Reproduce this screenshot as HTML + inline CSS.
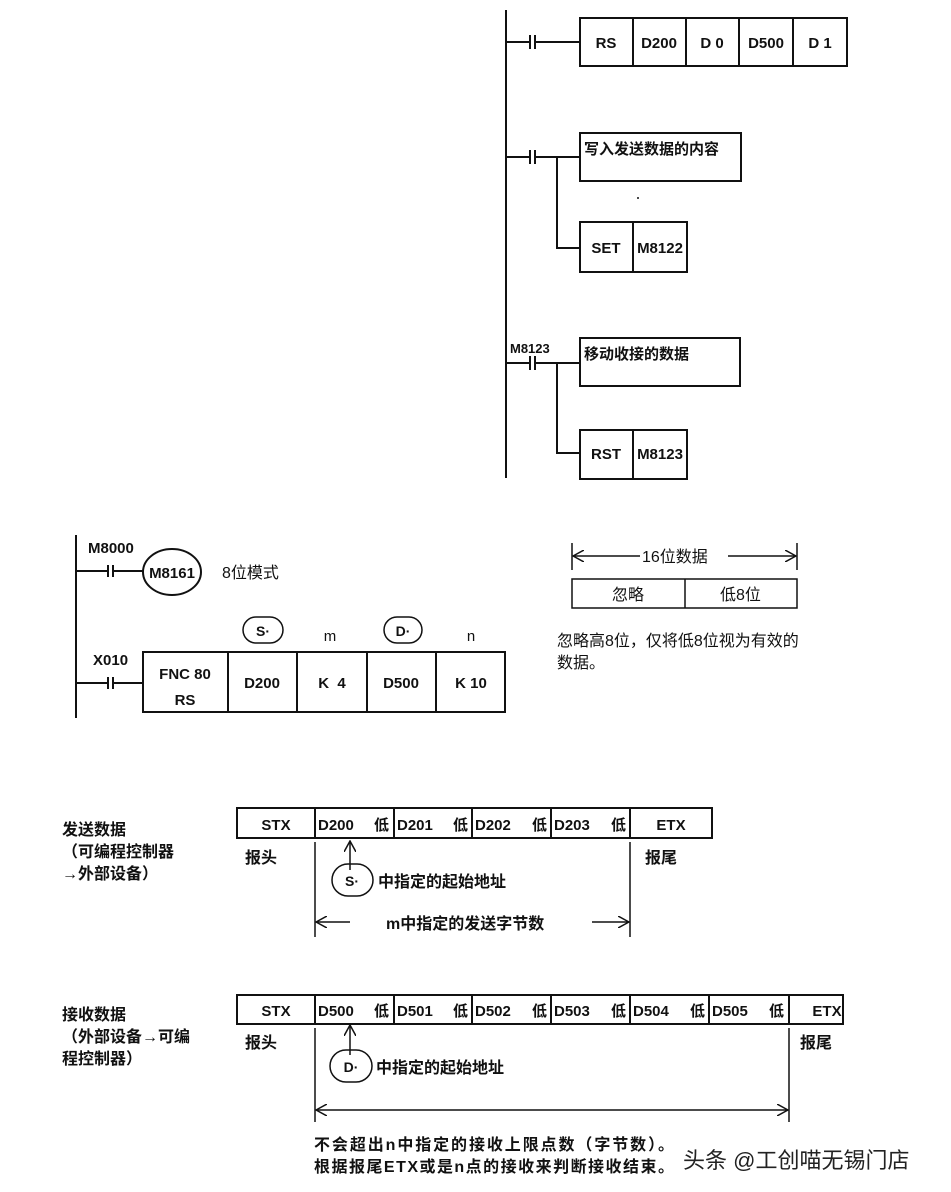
<!DOCTYPE html>
<html><head><meta charset="utf-8"><style>
html,body{margin:0;padding:0;background:#fff;width:951px;height:1192px;overflow:hidden}
svg text{font-family:"Liberation Sans","Noto Sans CJK SC",sans-serif;font-weight:bold;fill:#111}
svg text.n{font-weight:normal}
</style></head><body>
<svg width="951" height="1192" viewBox="0 0 951 1192" xmlns="http://www.w3.org/2000/svg">
<defs>
<marker id="ah" markerWidth="12" markerHeight="12" refX="11" refY="6" orient="auto" markerUnits="userSpaceOnUse"><path d="M0,0 L11,6 L0,12" fill="none" stroke="#111" stroke-width="1.5"/></marker>
</defs>
<g stroke="#111" stroke-width="2" fill="none">
<line x1="506" y1="10" x2="506" y2="478"/>
<line x1="506" y1="42" x2="529" y2="42"/><line x1="530" y1="35" x2="530" y2="49"/><line x1="535" y1="35" x2="535" y2="49"/><line x1="535" y1="42" x2="580" y2="42"/>
<rect x="580" y="18" width="267" height="48"/>
<line x1="633" y1="18" x2="633" y2="66"/><line x1="686" y1="18" x2="686" y2="66"/><line x1="739" y1="18" x2="739" y2="66"/><line x1="793" y1="18" x2="793" y2="66"/>
<line x1="506" y1="157" x2="529" y2="157"/><line x1="530" y1="150" x2="530" y2="164"/><line x1="535" y1="150" x2="535" y2="164"/><line x1="535" y1="157" x2="580" y2="157"/>
<rect x="580" y="133" width="161" height="48"/>
<polyline points="557,157 557,248 580,248"/>
<rect x="580" y="222" width="107" height="50"/><line x1="633" y1="222" x2="633" y2="272"/>
<line x1="506" y1="363" x2="529" y2="363"/><line x1="530" y1="356" x2="530" y2="370"/><line x1="535" y1="356" x2="535" y2="370"/><line x1="535" y1="363" x2="580" y2="363"/>
<rect x="580" y="338" width="160" height="48"/>
<polyline points="557,363 557,453 580,453"/>
<rect x="580" y="430" width="107" height="49"/><line x1="633" y1="430" x2="633" y2="479"/>
<line x1="76" y1="535" x2="76" y2="718"/>
<line x1="76" y1="571" x2="107" y2="571"/><line x1="108" y1="565" x2="108" y2="577"/><line x1="113" y1="565" x2="113" y2="577"/><line x1="113" y1="571" x2="143" y2="571"/>
<ellipse cx="172" cy="572" rx="29" ry="23"/>
<line x1="76" y1="683" x2="107" y2="683"/><line x1="108" y1="677" x2="108" y2="689"/><line x1="113" y1="677" x2="113" y2="689"/><line x1="113" y1="683" x2="143" y2="683"/>
<rect x="143" y="652" width="362" height="60"/>
<line x1="228" y1="652" x2="228" y2="712"/><line x1="297" y1="652" x2="297" y2="712"/><line x1="367" y1="652" x2="367" y2="712"/><line x1="436" y1="652" x2="436" y2="712"/>
<rect x="243" y="617" width="40" height="26" rx="13" stroke-width="1.5"/>
<rect x="384" y="617" width="38" height="26" rx="13" stroke-width="1.5"/>
<line x1="572" y1="543" x2="572" y2="570" stroke-width="1.5"/><line x1="797" y1="543" x2="797" y2="570" stroke-width="1.5"/>
<line x1="640" y1="556" x2="573" y2="556" stroke-width="1.5" marker-end="url(#ah)"/>
<line x1="728" y1="556" x2="796" y2="556" stroke-width="1.5" marker-end="url(#ah)"/>
<rect x="572" y="579" width="225" height="29" stroke-width="1.5"/><line x1="685" y1="579" x2="685" y2="608" stroke-width="1.5"/>
<rect x="237" y="808" width="475" height="30"/>
<line x1="315" y1="808" x2="315" y2="838"/><line x1="394" y1="808" x2="394" y2="838"/><line x1="472" y1="808" x2="472" y2="838"/><line x1="551" y1="808" x2="551" y2="838"/><line x1="630" y1="808" x2="630" y2="838"/>
<line x1="315" y1="842" x2="315" y2="937" stroke-width="1.5"/><line x1="630" y1="842" x2="630" y2="937" stroke-width="1.5"/>
<line x1="350" y1="870" x2="350" y2="841" stroke-width="1.5" marker-end="url(#ah)"/>
<rect x="332" y="864" width="41" height="32" rx="16" stroke-width="1.5"/>
<line x1="350" y1="922" x2="316" y2="922" stroke-width="1.5" marker-end="url(#ah)"/>
<line x1="592" y1="922" x2="629" y2="922" stroke-width="1.5" marker-end="url(#ah)"/>
<rect x="237" y="995" width="606" height="29"/>
<line x1="315" y1="995" x2="315" y2="1024"/><line x1="394" y1="995" x2="394" y2="1024"/><line x1="472" y1="995" x2="472" y2="1024"/><line x1="551" y1="995" x2="551" y2="1024"/><line x1="630" y1="995" x2="630" y2="1024"/><line x1="709" y1="995" x2="709" y2="1024"/><line x1="789" y1="995" x2="789" y2="1024"/>
<line x1="315" y1="1028" x2="315" y2="1122" stroke-width="1.5"/><line x1="789" y1="1028" x2="789" y2="1122" stroke-width="1.5"/>
<line x1="350" y1="1055" x2="350" y2="1025" stroke-width="1.5" marker-end="url(#ah)"/>
<rect x="330" y="1050" width="42" height="32" rx="16" stroke-width="1.5"/>
<line x1="550" y1="1110" x2="316" y2="1110" stroke-width="1.5" marker-end="url(#ah)"/>
<line x1="550" y1="1110" x2="788" y2="1110" stroke-width="1.5" marker-end="url(#ah)"/>
</g>
<circle cx="638" cy="198" r="1" fill="#111"/>
<g font-size="15" text-anchor="middle">
<text x="606" y="48">RS</text><text x="659" y="48">D200</text><text x="712" y="48">D 0</text><text x="766" y="48">D500</text><text x="820" y="48">D 1</text>
<text x="606" y="253">SET</text><text x="660" y="253">M8122</text>
<text x="606" y="459">RST</text><text x="660" y="459">M8123</text>
<text x="172" y="578">M8161</text>
<text x="185" y="679">FNC 80</text><text x="185" y="705">RS</text>
<text x="262" y="688">D200</text><text x="332" y="688">K&#160;&#160;4</text><text x="401" y="688">D500</text><text x="471" y="688">K 10</text>
<text x="263" y="636" font-size="14">S·</text><text x="330" y="641" class="n">m</text><text x="403" y="636" font-size="14">D·</text><text x="471" y="641" class="n">n</text>
<text x="276" y="830">STX</text><text x="671" y="830">ETX</text>
<text x="276" y="1016">STX</text><text x="827" y="1016">ETX</text>
<text x="352" y="886" font-size="14">S·</text><text x="351" y="1072" font-size="14">D·</text>
</g>
<g font-size="15">
<text x="584" y="154">写入发送数据的内容</text>
<text x="584" y="359">移动收接的数据</text>
<text x="510" y="353" font-size="13">M8123</text>
<text x="88" y="553">M8000</text>
<text x="93" y="665">X010</text>
<text x="222" y="578" class="n" font-size="16">8位模式</text>
<text x="642" y="562" class="n" font-size="16">16位数据</text>
<text x="612" y="600" class="n" font-size="16">忽略</text><text x="720" y="600" class="n" font-size="16">低8位</text>
<text x="557" y="646" class="n" font-size="16">忽略高8位，仅将低8位视为有效的</text>
<text x="557" y="668" class="n" font-size="16">数据。</text>
<text x="62" y="835" font-size="16">发送数据</text><text x="62" y="857" font-size="16">（可编程控制器</text><text x="62" y="879" font-size="16">→外部设备）</text>
<text x="62" y="1020" font-size="16">接收数据</text><text x="62" y="1042" font-size="16">（外部设备→可编</text><text x="62" y="1064" font-size="16">程控制器）</text>
<text x="245" y="863" font-size="16">报头</text><text x="645" y="863" font-size="16">报尾</text>
<text x="245" y="1048" font-size="16">报头</text><text x="800" y="1048" font-size="16">报尾</text>
<text x="378" y="887" font-size="16">中指定的起始地址</text>
<text x="376" y="1073" font-size="16">中指定的起始地址</text>
<text x="386" y="929" font-size="16">m中指定的发送字节数</text>
<text x="314" y="1150" font-size="16" textLength="360">不会超出n中指定的接收上限点数（字节数）。</text>
<text x="314" y="1172" font-size="16" textLength="360">根据报尾ETX或是n点的接收来判断接收结束。</text>
<text x="318" y="830">D200</text><text x="374" y="830">低</text><text x="397" y="830">D201</text><text x="453" y="830">低</text><text x="475" y="830">D202</text><text x="532" y="830">低</text><text x="554" y="830">D203</text><text x="611" y="830">低</text>
<text x="318" y="1016">D500</text><text x="374" y="1016">低</text><text x="397" y="1016">D501</text><text x="453" y="1016">低</text><text x="475" y="1016">D502</text><text x="532" y="1016">低</text><text x="554" y="1016">D503</text><text x="611" y="1016">低</text><text x="633" y="1016">D504</text><text x="690" y="1016">低</text><text x="712" y="1016">D505</text><text x="769" y="1016">低</text>
</g>
<text x="683" y="1168" font-size="22" class="n" style="fill:#222">头条 @工创喵无锡门店</text>
</svg>
</body></html>
